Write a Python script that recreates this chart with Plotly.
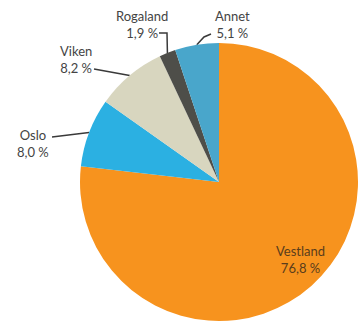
import math
import plotly.graph_objects as go

labels = ["Vestland", "Oslo", "Viken", "Rogaland", "Annet"]
values = [76.8, 8.0, 8.2, 1.9, 5.1]
value_text = ["76,8 %", "8,0 %", "8,2 %", "1,9 %", "5,1 %"]
colors = ["#F7931E", "#2BB0E2", "#D8D6BF", "#4E4E49", "#49A6CB"]

W, H = 358, 322
cx, cy, r = 219, 182, 139

fig = go.Figure()
fig.add_trace(go.Pie(
    labels=labels, values=values, sort=False, direction="clockwise", rotation=0,
    marker=dict(colors=colors, line=dict(width=0)), textinfo="none", hoverinfo="label+percent",
    showlegend=False,
    domain=dict(x=[(cx - r) / W, (cx + r) / W], y=[1 - (cy + r) / H, 1 - (cy - r) / H]),
))

# mid-angles of slices (clockwise from 12 o'clock)
total = sum(values)
cum = 0
mids = []
for v in values:
    mids.append((cum + v / 2) / total * 360)
    cum += v

def edge(i):
    a = math.radians(mids[i])
    return cx + r * math.sin(a), cy - r * math.cos(a)

# text positions (pixel) and leader elbows for outside labels
text_pos = {1: (33, 143), 2: (76, 59), 3: (142, 24), 4: (232, 24)}
elbows = {1: [(52, 137)], 2: [(94, 69)], 3: [(159, 33), (167, 33)], 4: [(211, 34), (204, 37)]}

lc = "#3a3a3a"
for i, pos in text_pos.items():
    ex, ey = edge(i)
    pts = elbows[i] + [(ex, ey)]
    fig.add_trace(go.Scatter(x=[p[0] for p in pts], y=[p[1] for p in pts], mode="lines",
                             line=dict(color=lc, width=1.5), hoverinfo="skip", showlegend=False))
    fig.add_annotation(x=pos[0], y=pos[1], xref="x", yref="y", showarrow=False,
                       text=f"{labels[i]}<br>{value_text[i]}", align="center",
                       font=dict(family="Lato, sans-serif", size=13, color="#444444"))

fig.add_annotation(x=300, y=259, xref="x", yref="y", showarrow=False,
                   text=f"{labels[0]}<br>{value_text[0]}", align="center",
                   font=dict(family="Lato, sans-serif", size=13, color="#5a3d1c"))

fig.update_layout(
    width=W, height=H, margin=dict(l=0, r=0, t=0, b=0),
    paper_bgcolor="white", plot_bgcolor="rgba(0,0,0,0)",
    xaxis=dict(range=[0, W], visible=False, fixedrange=True),
    yaxis=dict(range=[H, 0], visible=False, fixedrange=True),
)
fig.write_html("out.html")
